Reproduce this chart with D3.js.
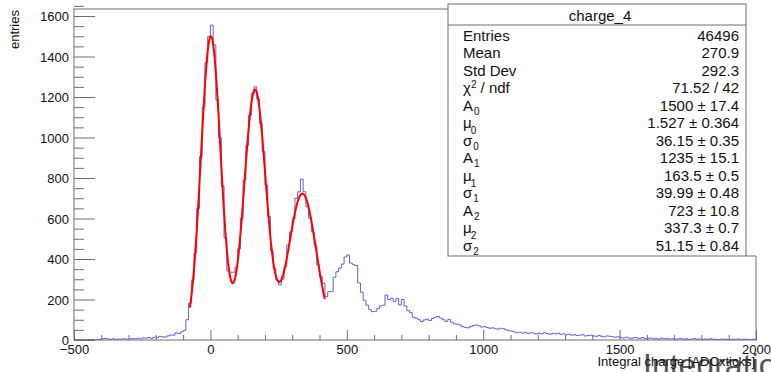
<!DOCTYPE html>
<html>
<head>
<meta charset="utf-8">
<script src="https://cdn.jsdelivr.net/npm/d3@7/dist/d3.min.js"></script>
<style>
  body { margin: 0; background: #fff; }
  svg { display: block; font-family: "Liberation Sans", Arial, sans-serif; }
</style>
</head>
<body>
<svg id="drawing_region"></svg>
<script>
// histogram: 250 bins of width 10 from -500 to 2000
const binStart = -500;
const binWidth = 10;
const counts = [
  2, 1, 3, 2, 1, 2, 3, 1, 2, 3,
  6, 8, 5, 4, 6, 3, 5, 4, 6, 4,
  5, 7, 6, 8, 5, 10, 9, 12, 8, 14,
  12, 18, 16, 14, 20, 25, 24, 35, 32, 40,
  48, 100, 182, 296, 430, 650, 905, 1150, 1370, 1498,
  1555, 1457, 1185, 1000, 760, 505, 340, 335, 335, 360,
  450, 600, 790, 960, 1110, 1215, 1250, 1190, 1070, 930,
  765, 610, 440, 352, 296, 272, 300, 362, 469, 534,
  600, 700, 732, 794, 732, 658, 601, 534, 469, 370,
  313, 280, 214, 239, 239, 310, 337, 355, 375, 410,
  420, 380, 372, 368, 282, 236, 196, 172, 150, 140,
  142, 156, 168, 172, 222, 200, 206, 189, 206, 173,
  200, 168, 145, 135, 112, 108, 100, 91, 99, 103,
  96, 106, 112, 116, 108, 100, 92, 102, 88, 80,
  78, 74, 66, 62, 60, 66, 72, 74, 70, 64,
  66, 62, 58, 60, 56, 54, 58, 56, 50, 46,
  44, 40, 36, 38, 34, 38, 32, 36, 34, 30,
  34, 30, 36, 32, 28, 32, 30, 34, 28, 30,
  26, 28, 24, 26, 22, 24, 26, 20, 22, 24,
  20, 18, 22, 18, 16, 20, 18, 16, 14, 16,
  12, 10, 14, 10, 8, 12, 10, 8, 12, 6,
  8, 10, 6, 8, 4, 10, 6, 8, 5, 6,
  4, 6, 8, 4, 6, 3, 5, 7, 4, 5,
  3, 5, 4, 6, 3, 4, 2, 5, 3, 4,
  2, 4, 3, 5, 2, 3, 4, 2, 3, 4
];

// fit: sum of three gaussians
const fitA = [1500, 1235, 723];
const fitMu = [1.527, 163.5, 337.3];
const fitSigma = [36.15, 39.99, 51.15];
const fitRange = [-75, 420];

const xTicks = [-500, 0, 500, 1000, 1500, 2000];
const yTicks = [0, 200, 400, 600, 800, 1000, 1200, 1400, 1600];

const statsTitle = "charge_4";
const statsRows = [
  {name: ["Entries"], value: "46496"},
  {name: ["Mean"], value: "270.9"},
  {name: ["Std Dev"], value: "292.3"},
  {name: ["χ", "2", " / ndf"], kind: "sup", value: "71.52 / 42"},
  {name: ["A", "0"], kind: "sub", value: "1500 ± 17.4"},
  {name: ["μ", "0"], kind: "sub2", value: "1.527 ± 0.364"},
  {name: ["σ", "0"], kind: "sub", value: "36.15 ± 0.35"},
  {name: ["A", "1"], kind: "sub", value: "1235 ± 15.1"},
  {name: ["μ", "1"], kind: "sub2", value: "163.5 ± 0.5"},
  {name: ["σ", "1"], kind: "sub", value: "39.99 ± 0.48"},
  {name: ["A", "2"], kind: "sub", value: "723 ± 10.8"},
  {name: ["μ", "2"], kind: "sub2", value: "337.3 ± 0.7"},
  {name: ["σ", "2"], kind: "sub", value: "51.15 ± 0.84"}
];

const width = 771, height = 372;
const frame = {left: 74, right: 756, top: 9, bottom: 340};

const svg = d3.select('#drawing_region')
  .attr('width', width)
  .attr('height', height);

const xscale = d3.scaleLinear()
  .domain([-500, 2000])
  .range([frame.left, frame.right]);

const yscale = d3.scaleLinear()
  .domain([0, (frame.bottom - frame.top) / 0.2025])
  .range([frame.bottom, frame.top]);

svg.append('defs').append('clipPath').attr('id', 'clip')
  .append('rect')
  .attr('x', frame.left).attr('y', frame.top)
  .attr('width', frame.right - frame.left)
  .attr('height', frame.bottom - frame.top);

const axisColor = '#6e6e6e';

// frame
svg.append('rect')
  .attr('x', frame.left).attr('y', frame.top)
  .attr('width', frame.right - frame.left)
  .attr('height', frame.bottom - frame.top)
  .attr('fill', 'none')
  .attr('stroke', axisColor)
  .attr('stroke-width', 1);

// x axis ticks (inside)
const xMinor = d3.range(-500, 2001, 100).filter(v => !xTicks.includes(v));
const xaxisMajor = d3.axisBottom(xscale).tickValues(xTicks).tickSize(-10).tickFormat(d3.format('d'));
const xaxisMinor = d3.axisBottom(xscale).tickValues(xMinor).tickSize(-5).tickFormat('');

const xg = svg.append('g').attr('transform', `translate(0, ${frame.bottom})`).call(xaxisMajor);
svg.append('g').attr('transform', `translate(0, ${frame.bottom})`).call(xaxisMinor);

// y axis ticks (inside)
const yMinor = d3.range(0, 1651, 50).filter(v => !yTicks.includes(v));
const yaxisMajor = d3.axisLeft(yscale).tickValues(yTicks).tickSize(-21).tickFormat(d3.format('d'));
const yaxisMinor = d3.axisLeft(yscale).tickValues(yMinor).tickSize(-10).tickFormat('');

const yg = svg.append('g').attr('transform', `translate(${frame.left}, 0)`).call(yaxisMajor);
svg.append('g').attr('transform', `translate(${frame.left}, 0)`).call(yaxisMinor);

svg.selectAll('.domain').remove();
svg.selectAll('.tick line').attr('stroke', axisColor);
svg.selectAll('.tick text').attr('fill', '#111').style('font-size', '13px')
  .style('font-family', '"Liberation Sans", Arial, sans-serif');
xg.selectAll('.tick text').attr('y', 5).attr('dy', '0.71em')
  .text(d => d < 0 ? '\u2212' + Math.abs(d) : d);
yg.selectAll('.tick text').attr('x', -5).attr('dy', '0.35em');

// histogram as a step outline
const bins = counts.map((c, i) => ({x0: binStart + i * binWidth, x1: binStart + (i + 1) * binWidth, c: c}));
const stepPts = [];
bins.forEach(b => {
  stepPts.push([xscale(b.x0), yscale(b.c)]);
  stepPts.push([xscale(b.x1), yscale(b.c)]);
});

svg.append('path')
  .datum(stepPts)
  .attr('clip-path', 'url(#clip)')
  .attr('fill', 'none')
  .attr('stroke', '#6161d2')
  .attr('stroke-width', 1)
  .attr('d', d3.line());

// fit curve
const fitFn = x => d3.sum(fitA, (a, i) => a * Math.exp(-0.5 * Math.pow((x - fitMu[i]) / fitSigma[i], 2)));
const fitX = d3.range(fitRange[0], fitRange[1] + 0.5, 2);

svg.append('path')
  .datum(fitX)
  .attr('fill', 'none')
  .attr('stroke', '#ff0000')
  .attr('stroke-width', 2)
  .attr('d', d3.line().x(d => xscale(d)).y(d => yscale(fitFn(d))).curve(d3.curveLinear));

// axis titles
svg.append('text')
  .attr('transform', 'translate(19, 10) rotate(-90)')
  .attr('text-anchor', 'end')
  .attr('fill', '#111')
  .style('font-size', '13px')
  .text('entries');

// large title, mostly cut off at the bottom edge
svg.append('text')
  .attr('x', 643).attr('y', 376)
  .attr('fill', '#555')
  .style('font-size', '32px')
  .text('Integration');

svg.append('text')
  .attr('x', 755).attr('y', 366)
  .attr('text-anchor', 'end')
  .attr('fill', '#111')
  .style('font-size', '13px')
  .text('Integral charge [ADCxticks]');

// stats box
const box = {x0: 448, x1: 746, y0: 4, y1: 256};
svg.append('rect')
  .attr('x', box.x0).attr('y', box.y0)
  .attr('width', frame.right + 2 - box.x0).attr('height', box.y1 - box.y0)
  .attr('fill', '#fff');
svg.append('rect')
  .attr('x', box.x0).attr('y', box.y0)
  .attr('width', box.x1 - box.x0).attr('height', box.y1 - box.y0)
  .attr('fill', 'none')
  .attr('stroke', axisColor);
svg.append('line')
  .attr('x1', box.x0).attr('x2', box.x1)
  .attr('y1', 25).attr('y2', 25)
  .attr('stroke', axisColor);
svg.append('line')
  .attr('x1', box.x1).attr('x2', frame.right)
  .attr('y1', box.y1).attr('y2', box.y1)
  .attr('stroke', axisColor);

const stats = svg.append('g').style('font-size', '15px').attr('fill', '#111');
stats.append('text')
  .attr('x', (box.x0 + box.x1) / 2 + 3).attr('y', 21)
  .attr('text-anchor', 'middle')
  .text(statsTitle);

statsRows.forEach((r, i) => {
  const yb = 40.7 + i * 17.5;
  const t = stats.append('text').attr('x', 463).attr('y', yb);
  t.append('tspan').text(r.name[0]);
  if (r.kind === 'sup') {
    t.append('tspan').attr('dy', -5).style('font-size', '10px').text(r.name[1]);
    t.append('tspan').attr('dy', 5).text(r.name[2]);
  } else if (r.kind === 'sub') {
    t.append('tspan').attr('dy', 4).attr('dx', 1).style('font-size', '10px').text(r.name[1]);
  } else if (r.kind === 'sub2') {
    t.append('tspan').attr('dy', 6).attr('dx', -1).style('font-size', '10px').text(r.name[1]);
  }
  stats.append('text')
    .attr('x', 739).attr('y', yb)
    .attr('text-anchor', 'end')
    .text(r.value);
});
</script>
</body>
</html>
